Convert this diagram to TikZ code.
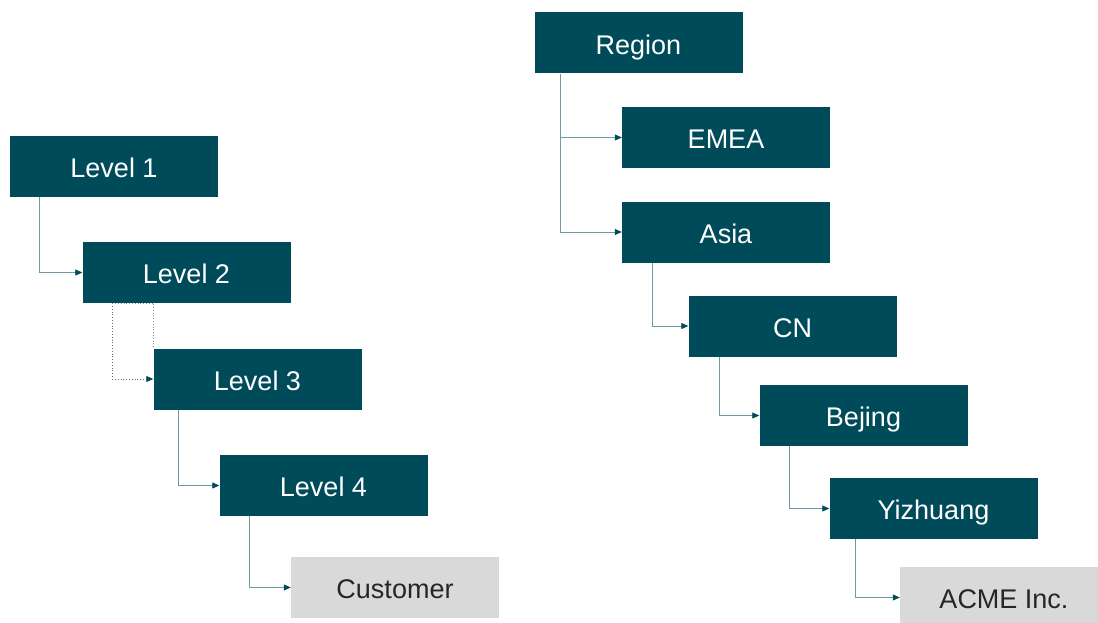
\documentclass[tikz,border=0pt]{standalone}
\usepackage{fontspec}
\setmainfont{Liberation Sans}
\usetikzlibrary{arrows.meta}

\definecolor{boxteal}{HTML}{004B5A}
\definecolor{linkteal}{HTML}{6E9AA3}
\definecolor{leafgray}{HTML}{D9D9D9}
\definecolor{leaftext}{HTML}{262626}

\begin{document}
\begin{tikzpicture}[
  x=1pt,
  y=-1pt,
  level/.style={fill=boxteal, text=white, minimum width=208pt, minimum height=61pt, inner sep=0pt, text height=22.5pt, text depth=0pt, font=\fontsize{27}{31}\selectfont},
  leaf/.style={fill=leafgray, text=leaftext, minimum width=208pt, minimum height=61pt, inner sep=0pt, text height=22.5pt, text depth=0pt, font=\fontsize{27}{31}\selectfont},
  link/.style={draw=linkteal, line width=0.8pt, -{Triangle[length=7pt, width=6pt, color=boxteal]}},
  dotlink/.style={draw=black!60, dotted, line width=0.8pt, -{Triangle[length=7pt, width=6pt, color=boxteal]}},
  dotline/.style={draw=black!45, dotted, line width=0.8pt}
]
\clip (0,0) rectangle (1098,623);
\fill[white] (0,0) rectangle (1098,623);

% generic hierarchy
\node[level] (lvl1) at (114,166.5) {Level 1};
\node[level] (lvl2) at (186.5,272.5) {Level 2};
\node[level] (lvl3) at (257.5,379) {Level 3};
\node[level] (lvl4) at (323.5,485.5) {Level 4};
\node[leaf] (cust) at (395,587.5) {Customer};

% example hierarchy
\node[level] (region) at (638.5,43) {Region};
\node[level] (emea) at (726,137.5) {EMEA};
\node[level] (asia) at (726,232) {Asia};
\node[level] (cn) at (792.5,326) {CN};
\node[level] (bejing) at (863.5,415.5) {Bejing};
\node[level] (yizhuang) at (933.5,508.5) {Yizhuang};
\node[leaf] (acme) at (1004,597.5) {ACME Inc.};

\draw[link] ([xshift=30pt]lvl1.south west) |- (lvl2.west);
\draw[dotlink] ([xshift=30pt]lvl2.south west) |- (lvl3.west);
\draw[dotline] ([xshift=30pt]lvl2.south west) -- (lvl3.north west |- lvl2.south) -- (lvl3.north west);
\draw[link] ([xshift=25pt]lvl3.south west) |- (lvl4.west);
\draw[link] ([xshift=30pt]lvl4.south west) |- (cust.west);

\draw[link] ([xshift=26pt]region.south west) |- (asia.west);
\draw[link] ([xshift=26pt]region.south west) |- (emea.west);
\draw[link] ([xshift=31pt]asia.south west) |- (cn.west);
\draw[link] ([xshift=31pt]cn.south west) |- (bejing.west);
\draw[link] ([xshift=30pt]bejing.south west) |- (yizhuang.west);
\draw[link] ([xshift=26pt]yizhuang.south west) |- (acme.west);
\end{tikzpicture}
\end{document}
